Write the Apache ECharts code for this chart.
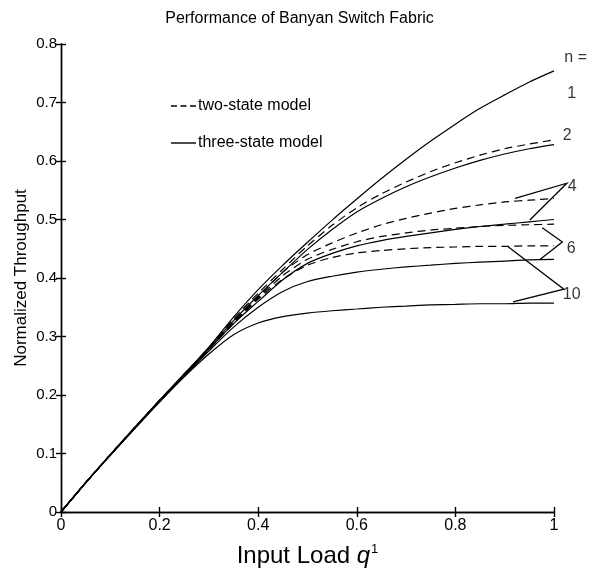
<!DOCTYPE html>
<html>
<head>
<meta charset="utf-8">
<script src="https://cdn.jsdelivr.net/npm/echarts@6/dist/echarts.min.js"></script>
<style>
  html, body { margin: 0; padding: 0; background: #fff; }
  #chart { width: 599px; height: 576px; }
</style>
</head>
<body>
<div id="chart"></div>
<script>
// input load values (x)
const qLoad = [0, 0.05, 0.1, 0.15, 0.2, 0.25, 0.3, 0.35, 0.4, 0.45, 0.5,
               0.55, 0.6, 0.65, 0.7, 0.75, 0.8, 0.85, 0.9, 0.95, 1.0];

// throughput, one array per curve
const n1Three  = [0, 0.05, 0.098, 0.145, 0.191, 0.236, 0.282, 0.333, 0.380, 0.422, 0.461,
                  0.499, 0.535, 0.570, 0.603, 0.634, 0.663, 0.690, 0.713, 0.735, 0.754];
const n2Two    = [0, 0.05, 0.098, 0.145, 0.191, 0.236, 0.281, 0.330, 0.374, 0.415, 0.455,
                  0.490, 0.520, 0.544, 0.564, 0.582, 0.597, 0.610, 0.621, 0.629, 0.636];
const n2Three  = [0, 0.05, 0.098, 0.145, 0.191, 0.236, 0.280, 0.327, 0.370, 0.410, 0.449,
                  0.483, 0.513, 0.536, 0.556, 0.573, 0.588, 0.601, 0.612, 0.621, 0.628];
const n4Two    = [0, 0.05, 0.098, 0.145, 0.190, 0.235, 0.280, 0.326, 0.368, 0.410, 0.440,
                  0.460, 0.477, 0.491, 0.502, 0.511, 0.519, 0.525, 0.530, 0.533, 0.536];
const n4Three  = [0, 0.05, 0.098, 0.144, 0.190, 0.234, 0.278, 0.322, 0.360, 0.397, 0.425,
                  0.442, 0.455, 0.464, 0.471, 0.477, 0.483, 0.488, 0.492, 0.496, 0.500];
const n6Two    = [0, 0.05, 0.098, 0.144, 0.190, 0.234, 0.279, 0.324, 0.366, 0.404, 0.432,
                  0.449, 0.462, 0.471, 0.477, 0.482, 0.485, 0.488, 0.490, 0.491, 0.492];
const n6Three  = [0, 0.05, 0.097, 0.143, 0.189, 0.232, 0.275, 0.316, 0.350, 0.377, 0.394,
                  0.403, 0.410, 0.415, 0.419, 0.422, 0.425, 0.427, 0.429, 0.431, 0.432];
const n10Two   = [0, 0.05, 0.098, 0.144, 0.190, 0.234, 0.278, 0.322, 0.364, 0.398, 0.422,
                  0.435, 0.443, 0.447, 0.450, 0.452, 0.453, 0.454, 0.454, 0.455, 0.455];
const n10Three = [0, 0.05, 0.097, 0.143, 0.188, 0.231, 0.270, 0.303, 0.323, 0.334, 0.340,
                  0.344, 0.347, 0.350, 0.352, 0.354, 0.355, 0.356, 0.356, 0.357, 0.357];

// annotation: leader lines to the n labels (data coords)
const lead4  = [[0.921, 0.536], [1.026, 0.562], [0.951, 0.499]];
const lead6  = [[0.976, 0.486], [1.017, 0.4615], [0.972, 0.432]];
const lead10 = [[0.907, 0.4535], [1.020, 0.381], [0.917, 0.359]];

const nLabels = ['n =', '1', '2', '4', '6', '10'];
const nLabelPos = [[1.021, 0.777], [1.027, 0.716], [1.018, 0.643], [1.028, 0.557], [1.026, 0.450], [1.018, 0.371]];

const FONT = 'Liberation Sans, Arial, Helvetica, sans-serif';

function pairs(ys) {
    return qLoad.map((q, i) => [q, ys[i]]);
}

function curve(name, ys, dashed) {
    return {
        name: name,
        type: 'line',
        data: pairs(ys),
        symbol: 'none',
        smooth: 0.25,
        lineStyle: {color: '#000', width: 1.2, type: dashed ? [8, 5] : 'solid'},
        itemStyle: {color: '#000'},
        silent: true,
        z: 3
    };
}

const two = 'two-state model';
const three = 'three-state model';

let chart = echarts.init(document.getElementById('chart'));
let option = {
    animation: false,
    backgroundColor: '#fff',
    title: {
        text: 'Performance of Banyan Switch Fabric',
        left: 'center',
        top: 6,
        textStyle: {fontFamily: FONT, fontSize: 16, fontWeight: 'normal', color: '#000'}
    },
    legend: {
        data: [
            {name: two, icon: 'path://M0,0H5V1H0Z M8,0H13V1H8Z M16,0H21V1H16Z'},
            {name: three, icon: 'path://M0,0H21V1H0Z'}
        ],
        orient: 'vertical',
        left: 166,
        top: 93,
        itemWidth: 25,
        itemHeight: 1.4,
        symbolKeepAspect: false,
        itemGap: 21,
        selectedMode: false,
        textStyle: {fontFamily: FONT, fontSize: 16, color: '#000', padding: [0, 0, 0, -3]}
    },
    grid: {left: 61, right: 45, top: 44, bottom: 64},
    xAxis: [{
        type: 'value',
        min: 0, max: 1, interval: 0.2,
        name: '{a|Input Load }{q|q}{s|1}',
        nameLocation: 'middle',
        nameGap: 31,
        nameTextStyle: {
            rich: {
                a: {fontFamily: FONT, fontSize: 24, color: '#000'},
                q: {fontFamily: FONT, fontSize: 24, fontStyle: 'italic', color: '#000'},
                s: {fontFamily: FONT, fontSize: 13, color: '#000', verticalAlign: 'top', padding: [0, 0, 14, 1]}
            }
        },
        axisLine: {lineStyle: {color: '#000', width: 1.4}},
        axisTick: {inside: true, length: 5, lineStyle: {color: '#000', width: 1.4}},
        axisLabel: {fontFamily: FONT, fontSize: 16, color: '#000', margin: 6,
            formatter: v => (v === 0 || v === 1) ? String(v) : v.toFixed(1)},
        splitLine: {show: false}
    }, {
        type: 'value',
        position: 'top',
        min: 0, max: 1, interval: 0.2,
        axisLine: {lineStyle: {color: '#000', width: 1.4}},
        axisTick: {inside: true, length: 5, lineStyle: {color: '#000', width: 1.4}},
        axisLabel: {show: false},
        splitLine: {show: false}
    }],
    yAxis: [{
        type: 'value',
        min: 0, max: 0.8, interval: 0.1,
        name: 'Normalized Throughput',
        nameLocation: 'middle',
        nameGap: 31,
        nameMoveOverlap: false,
        nameTextStyle: {fontFamily: FONT, fontSize: 17, color: '#000'},
        axisLine: {lineStyle: {color: '#000', width: 1.4}},
        axisTick: {inside: true, length: 5, lineStyle: {color: '#000', width: 1.4}},
        axisLabel: {fontFamily: FONT, fontSize: 15, color: '#000', margin: 4,
            formatter: v => v === 0 ? '0' : v.toFixed(1)},
        splitLine: {show: false}
    }, {
        type: 'value',
        position: 'right',
        min: 0, max: 0.8, interval: 0.1,
        axisLine: {lineStyle: {color: '#000', width: 1.4}},
        axisTick: {inside: true, length: 5, lineStyle: {color: '#000', width: 1.4}},
        axisLabel: {show: false},
        splitLine: {show: false}
    }],
    series: [
        curve(three, n1Three, false),
        curve(two, n2Two, true),
        curve(three, n2Three, false),
        curve(two, n4Two, true),
        curve(three, n4Three, false),
        curve(two, n6Two, true),
        curve(three, n6Three, false),
        curve(two, n10Two, true),
        curve(three, n10Three, false),
        {
            type: 'scatter',
            data: nLabelPos.map((p, i) => ({value: p, name: nLabels[i]})),
            symbolSize: 0,
            clip: false,
            silent: true,
            label: {
                show: true,
                position: 'right',
                distance: 0,
                formatter: p => p.name,
                fontFamily: FONT,
                fontSize: 16,
                color: '#000'
            }
        }
    ]
};
chart.setOption(option);

// leader lines go past the right border, so draw them as graphics placed through the axes
let toPx = pt => chart.convertToPixel({xAxisIndex: 0, yAxisIndex: 0}, pt);
chart.setOption({
    graphic: [lead4, lead6, lead10].map(pts => ({
        type: 'polyline',
        silent: true,
        z: 10,
        shape: {points: pts.map(toPx)},
        style: {stroke: '#000', lineWidth: 1.3, fill: null}
    }))
});
</script>
</body>
</html>
